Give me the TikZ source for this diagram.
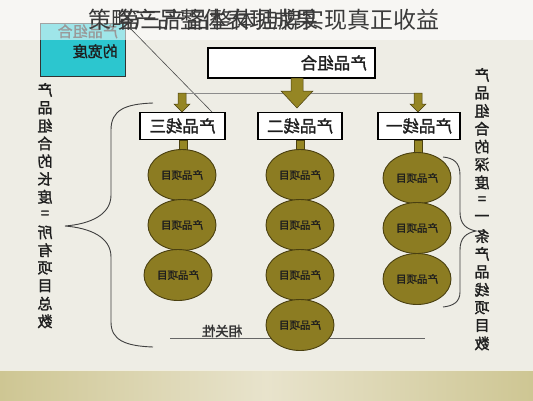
\documentclass[tikz,border=0pt]{standalone}
\usepackage{fontspec}
\newfontfamily\cjk{Noto Sans CJK SC}
\newfontfamily\cjkb[FakeBold=1.6]{Noto Sans CJK SC}
\usetikzlibrary{shapes.geometric}
\definecolor{bgc}{HTML}{EEEDE5}
\definecolor{topc}{HTML}{F9F9F6}
\definecolor{bandA}{HTML}{CEC693}
\definecolor{bandB}{HTML}{E8E3CC}
\definecolor{olivef}{HTML}{8C7C22}
\definecolor{olived}{HTML}{4A4010}
\definecolor{arrf}{HTML}{958624}
\definecolor{cyanf}{HTML}{2CC6CF}
\definecolor{txt}{HTML}{1E1E1E}
\definecolor{ttl}{HTML}{3A3A3A}
\tikzset{
  linebox/.style={draw=black,line width=1.3pt,fill=white,minimum height=27pt,inner sep=0pt},
  boxtext/.style={font=\cjkb\fontsize{16.5}{17}\selectfont,text=txt},
  item/.style={ellipse,draw=olived,line width=0.9pt,fill=olivef,minimum width=68pt,minimum height=51pt,inner sep=0pt,font=\cjkb\fontsize{10.5}{11}\selectfont,text=txt},
  vch/.style={font=\cjkb\fontsize{15}{15}\selectfont,text=txt,inner sep=0pt},
  brace/.style={draw=black!75,line width=0.9pt},
  arr/.style={fill=arrf,draw=olived,line width=0.5pt},
  pics/downarr/.style={code={\path[arr] (-4,0) -- (4,0) -- (4,11) -- (8,11) -- (0,19) -- (-8,11) -- (-4,11) -- cycle;}},
  pics/bigarr/.style={code={\path[arr] (-6,0) -- (6,0) -- (6,13) -- (16,13) -- (0,30) -- (-16,13) -- (-6,13) -- cycle;}},
  pics/stem/.style={code={\path[arr] (-4,0) -- (4,0) -- (4,14) -- (-4,14) -- cycle;}}
}
\begin{document}
\begin{tikzpicture}[x=1pt,y=-1pt]
\useasboundingbox (0,0) rectangle (533,400);
% background
\fill[bgc] (0,0) rectangle (533,400);
\shade[left color=bandA,right color=bandA,middle color=bandB] (0,370) rectangle (533,400);
\draw[bandB!60!white,line width=1pt] (0,370.5) -- (533,370.5);

% cyan box
\node[draw=black!80,line width=1pt,fill=cyanf,minimum width=85pt,minimum height=53pt,inner sep=0pt] (wid) at (82.5,49.5) {};
\node[font=\cjkb\fontsize{15}{20}\selectfont,text=txt,align=left,inner sep=0pt,anchor=east] (widt) at (118,43) {\reflectbox{\begin{tabular}{@{}l@{}}产品组合\\的宽度\end{tabular}}};

% title band
\fill[white,opacity=0.55] (0,0) rectangle (533,40);

% title (overlapping texts, as in the reference)
\node[font=\cjk\fontsize{23}{23}\selectfont,text=ttl,anchor=west,inner sep=0pt] (t1) at (88,20) {策略产品整体表现成果};
\node[font=\cjk\fontsize{23}{23}\selectfont,text=ttl,anchor=east,inner sep=0pt] (t2) at (440,20) {第三产品整体挂牌实现真正收益};

% diagonal line
\coordinate (dA) at (128,26);
\coordinate (dB) at (212,112);
\draw[black!70,line width=0.6pt] (dA) -- (dB);

% top box
\node[linebox,minimum width=167pt,minimum height=30pt] (top) at (291.5,63) {};
\node[boxtext,anchor=east,inner sep=0pt] (topt) at (367,63) {\reflectbox{产品组合}};

% horizontal connector
\coordinate (hL) at (182,93);
\coordinate (hR) at (418,93);
\draw[black!45,line width=0.8pt] (hL) -- (hR);

% arrows
\pic at (297,78) {bigarr};
\pic at (182,93) {downarr};
\pic at (418,93) {downarr};

% product line boxes
\node[linebox,boxtext,minimum width=85pt] (p3) at (182.5,126) {\reflectbox{产品线三}};
\node[linebox,boxtext,minimum width=84pt] (p2) at (300,126) {\reflectbox{产品线二}};
\node[linebox,boxtext,minimum width=82pt] (p1) at (419,126) {\reflectbox{产品线一}};

\pic at (183,140) {stem};
\pic at (300,140) {stem};
\pic at (418,140) {stem};

% relevance line
\coordinate (rL) at (170,338);
\coordinate (rR) at (425,338);
\draw[black!60,line width=0.8pt] (rL) -- (rR);
\node[font=\cjkb\fontsize{13.5}{14}\selectfont,text=black!80,inner sep=0pt] (rel) at (222,331) {\reflectbox{相关性}};

% items column 3
\node[item] (a1) at (182,175) {\reflectbox{产品项目}};
\node[item] (a2) at (182,225) {\reflectbox{产品项目}};
\node[item] (a3) at (178,275) {\reflectbox{产品项目}};
% items column 2
\node[item] (b1) at (300,175) {\reflectbox{产品项目}};
\node[item] (b2) at (300,225) {\reflectbox{产品项目}};
\node[item] (b3) at (300,275) {\reflectbox{产品项目}};
\node[item] (b4) at (300,325) {\reflectbox{产品项目}};
% items column 1
\node[item] (c1) at (417,178) {\reflectbox{产品项目}};
\node[item] (c2) at (417,228) {\reflectbox{产品项目}};
\node[item] (c3) at (417,279) {\reflectbox{产品项目}};

% left brace
\draw[brace] (153,103) .. controls (125,104) and (111,110) .. (111,130)
  -- (111,195) .. controls (111,215) and (90,224) .. (65,226)
  .. controls (90,228) and (111,237) .. (111,257)
  -- (111,322) .. controls (111,340) and (125,346) .. (153,347);
% right brace
\draw[brace] (443,157) .. controls (453,158) and (460,162) .. (460,175)
  -- (460,212) .. controls (460,224) and (466,229) .. (476,231)
  .. controls (466,233) and (460,238) .. (460,250)
  -- (460,292) .. controls (460,302) and (453,306) .. (443,307);

% left vertical text
\foreach [count=\i] \c in {产,品,组,合,的,长,度,=,所,有,项,目,总,数}
  \node[vch] (L\i) at (45,{90+(\i-1)*17.8}) {\reflectbox{\c}};
% right vertical text
\foreach [count=\i] \c in {产,品,组,合,的,深,度,=,一,条,产,品,线,项,目,数}
  \node[vch] (R\i) at (482,{75+(\i-1)*17.9}) {\reflectbox{\c}};
\end{tikzpicture}
\end{document}
